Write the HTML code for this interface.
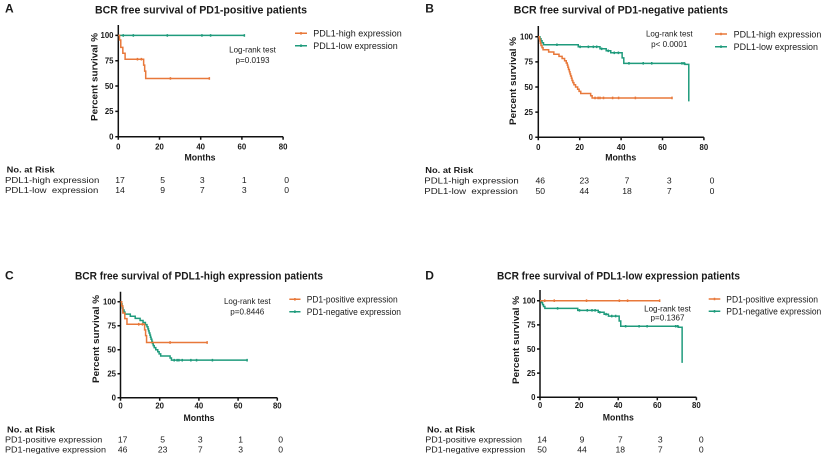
<!DOCTYPE html>
<html><head><meta charset="utf-8"><style>
html,body{margin:0;padding:0;background:#fff;}
svg{display:block;}
text{font-family:"Liberation Sans",Arial,sans-serif;fill:#1a1a1a;}
.b{font-weight:bold;}
.t{font-size:10.8px;font-weight:bold;}
.tk{font-size:7.8px;font-weight:bold;}
.ax{font-size:9.4px;font-weight:bold;}
.lg{font-size:8.8px;}
.lr{font-size:8.1px;}
.rk{font-size:8.6px;}
.ln{fill:none;stroke-width:1.5;vector-effect:non-scaling-stroke;}
.o{stroke:#E8783A;}
.g{stroke:#1F9B7C;}
.axis{stroke:#111;stroke-width:1.5;fill:none;}
</style></head><body>
<svg width="824" height="457" viewBox="0 0 824 457" xmlns="http://www.w3.org/2000/svg">
<rect width="824" height="457" fill="#fff"/>

<!-- ===== Panel A ===== -->
<text x="5" y="12.5" class="b" font-size="12">A</text>
<text x="95" y="13.5" class="t" textLength="212" lengthAdjust="spacingAndGlyphs">BCR free survival of PD1-positive patients</text>
<path class="axis" d="M118.3,25 V136.7 H283.1 M115.3,35.4 H118.3 M115.3,60.7 H118.3 M115.3,86.05 H118.3 M115.3,111.4 H118.3 M115.3,136.7 H118.3 M118.3,136.7 v3 M159.5,136.7 v3 M200.7,136.7 v3 M241.9,136.7 v3 M283.1,136.7 v3"/>
<g class="tk" text-anchor="end">
<text x="113.5" y="38.2">100</text><text x="113.5" y="63.5">75</text><text x="113.5" y="88.8">50</text><text x="113.5" y="114.2">25</text><text x="113.5" y="139.5">0</text>
</g>
<g class="tk" text-anchor="middle">
<text x="118.3" y="149.5">0</text><text x="159.5" y="149.5">20</text><text x="200.7" y="149.5">40</text><text x="241.9" y="149.5">60</text><text x="283.1" y="149.5">80</text>
</g>
<text x="200" y="160.5" class="ax" text-anchor="middle" textLength="31" lengthAdjust="spacingAndGlyphs">Months</text>
<text transform="translate(97.7,77) rotate(-90)" class="ax" text-anchor="middle" textLength="88" lengthAdjust="spacingAndGlyphs">Percent survival %</text>
<g transform="translate(118.3,136.7) scale(2.06,-1.013)">
<path class="ln g" d="M0,100 H61.2 M2.4,98.7 v2.6 M7.3,98.7 v2.6 M23.8,98.7 v2.6 M40.6,98.7 v2.6 M44.8,98.7 v2.6 M61.2,98.7 v2.6"/>
<path class="ln o" d="M0,100 H0.6 V95.5 H1.2 V88.2 H2.2 V82.4 H3.3 V76.5 H12.3 V70.6 H12.8 V64.7 H13.3 V57.5 H44.2 M9.3,75.2 v2.6 M11.2,75.2 v2.6 M25.3,56.2 v2.6 M44.2,56.2 v2.6"/>
</g>
<path class="ln o" d="M295,33.3 H307 M301,32 v2.6"/>
<path class="ln g" d="M295,45.7 H307 M301,44.4 v2.6"/>
<text x="313.3" y="36.5" class="lg" textLength="88.4" lengthAdjust="spacingAndGlyphs">PDL1-high expression</text>
<text x="313.3" y="49" class="lg" textLength="84.4" lengthAdjust="spacingAndGlyphs">PDL1-low expression</text>
<text x="252.5" y="52.5" class="lr" text-anchor="middle" textLength="46.7" lengthAdjust="spacingAndGlyphs">Log-rank test</text>
<text x="252.5" y="63" class="lr" text-anchor="middle">p=0.0193</text>
<text x="6.7" y="172.5" class="rk b" textLength="48" lengthAdjust="spacingAndGlyphs">No. at Risk</text>
<text x="5" y="183" class="rk" textLength="94.3" lengthAdjust="spacingAndGlyphs">PDL1-high expression</text>
<text x="5" y="193" class="rk" textLength="93.3" lengthAdjust="spacingAndGlyphs" xml:space="preserve">PDL1-low  expression</text>
<g class="rk" text-anchor="middle">
<text x="120" y="183">17</text><text x="162.7" y="183">5</text><text x="202.3" y="183">3</text><text x="244.3" y="183">1</text><text x="286.7" y="183">0</text>
<text x="120" y="193">14</text><text x="162.7" y="193">9</text><text x="202.3" y="193">7</text><text x="244.3" y="193">3</text><text x="286.7" y="193">0</text>
</g>

<!-- ===== Panel B ===== -->
<text x="425.3" y="12.5" class="b" font-size="12">B</text>
<text x="513.7" y="13.5" class="t" textLength="214.3" lengthAdjust="spacingAndGlyphs">BCR free survival of PD1-negative patients</text>
<path class="axis" d="M538.3,26 V137.3 H703.9 M535.3,36.7 H538.3 M535.3,61.85 H538.3 M535.3,87 H538.3 M535.3,112.15 H538.3 M535.3,137.3 H538.3 M538.3,137.3 v3 M579.7,137.3 v3 M621.1,137.3 v3 M662.5,137.3 v3 M703.9,137.3 v3"/>
<g class="tk" text-anchor="end">
<text x="533" y="39.5">100</text><text x="533" y="64.6">75</text><text x="533" y="89.8">50</text><text x="533" y="114.9">25</text><text x="533" y="140.1">0</text>
</g>
<g class="tk" text-anchor="middle">
<text x="538.3" y="150">0</text><text x="579.7" y="150">20</text><text x="621.1" y="150">40</text><text x="662.5" y="150">60</text><text x="703.9" y="150">80</text>
</g>
<text x="620.7" y="160.7" class="ax" text-anchor="middle" textLength="31" lengthAdjust="spacingAndGlyphs">Months</text>
<text transform="translate(516,81) rotate(-90)" class="ax" text-anchor="middle" textLength="88" lengthAdjust="spacingAndGlyphs">Percent survival %</text>
<g transform="translate(538.3,137.3) scale(2.07,-1.006)">
<path class="ln g" d="M0,100 H0.8 V98 H1.3 V96 H1.8 V94 H2.5 V92 H19.3 V90 H29.8 V88 H32.8 V86 H35 V84 H40.5 V79 H41.3 V73.5 H70.8 V72.5 H72.7 V37 M9,90.7 v2.6 M20.2,88.7 v2.6 M24.2,88.7 v2.6 M26.6,88.7 v2.6 M28.2,88.7 v2.6 M30.6,86.7 v2.6 M33.8,84.7 v2.6 M36.7,82.7 v2.6 M38.7,82.7 v2.6 M43.8,72.2 v2.6 M50.7,72.2 v2.6 M54.8,72.2 v2.6 M69.4,72.2 v2.6 M70.4,72.2 v2.6 M72.7,35.7 v2.6"/>
<path class="ln o" d="M0,100 H0.5 V97.8 H0.8 V95.7 H1 V93.5 H1.3 V91.3 H1.8 V89.1 H2.3 V87 H5 V84.8 H7.5 V82.6 H10 V80.4 H11.5 V78.3 H12.7 V76.1 H13.5 V73.9 H14 V71.7 H14.3 V69.6 H14.6 V67.4 H15 V65.2 H15.3 V63 H15.6 V60.9 H16 V58.7 H16.3 V56.5 H16.7 V54.3 H17.2 V52.2 H18 V50 H19 V47.8 H19.7 V45.7 H20.5 V43.5 H25.3 V41.3 H26 V39.1 H64.6 M27.4,37.8 v2.6 M28.9,37.8 v2.6 M29.8,37.8 v2.6 M31.5,37.8 v2.6 M35.9,37.8 v2.6 M38.8,37.8 v2.6 M46.9,37.8 v2.6 M64.6,37.8 v2.6"/>
</g>
<path class="ln o" d="M715,34 H727 M721,32.7 v2.6"/>
<path class="ln g" d="M715,46.7 H727 M721,45.4 v2.6"/>
<text x="733.7" y="37.3" class="lg" textLength="87.6" lengthAdjust="spacingAndGlyphs">PDL1-high expression</text>
<text x="733.7" y="50" class="lg" textLength="84.3" lengthAdjust="spacingAndGlyphs">PDL1-low expression</text>
<text x="669.3" y="36.5" class="lr" text-anchor="middle" textLength="46.7" lengthAdjust="spacingAndGlyphs">Log-rank test</text>
<text x="669.3" y="47" class="lr" text-anchor="middle">p&lt; 0.0001</text>
<text x="425.3" y="173" class="rk b" textLength="48" lengthAdjust="spacingAndGlyphs">No. at Risk</text>
<text x="424.3" y="183.3" class="rk" textLength="94.4" lengthAdjust="spacingAndGlyphs">PDL1-high expression</text>
<text x="424.3" y="194" class="rk" textLength="93.7" lengthAdjust="spacingAndGlyphs" xml:space="preserve">PDL1-low  expression</text>
<g class="rk" text-anchor="middle">
<text x="540.3" y="183.3">46</text><text x="584.3" y="183.3">23</text><text x="627" y="183.3">7</text><text x="669.3" y="183.3">3</text><text x="712" y="183.3">0</text>
<text x="540.3" y="194">50</text><text x="584.3" y="194">44</text><text x="627" y="194">18</text><text x="669.3" y="194">7</text><text x="712" y="194">0</text>
</g>

<!-- ===== Panel C ===== -->
<text x="5" y="279.5" class="b" font-size="12">C</text>
<text x="75" y="279.3" class="t" textLength="248" lengthAdjust="spacingAndGlyphs">BCR free survival of PDL1-high expression patients</text>
<path class="axis" d="M120.5,291.7 V397.7 H277.3 M117.5,301.7 H120.5 M117.5,325.7 H120.5 M117.5,349.7 H120.5 M117.5,373.7 H120.5 M117.5,397.7 H120.5 M120.5,397.7 v3 M159.7,397.7 v3 M198.9,397.7 v3 M238.1,397.7 v3 M277.3,397.7 v3"/>
<g class="tk" text-anchor="end">
<text x="116" y="304.5">100</text><text x="116" y="328.5">75</text><text x="116" y="352.5">50</text><text x="116" y="376.5">25</text><text x="116" y="400.5">0</text>
</g>
<g class="tk" text-anchor="middle">
<text x="120.5" y="408.5">0</text><text x="159.7" y="408.5">20</text><text x="198.9" y="408.5">40</text><text x="238.1" y="408.5">60</text><text x="277.3" y="408.5">80</text>
</g>
<text x="199" y="421" class="ax" text-anchor="middle" textLength="31" lengthAdjust="spacingAndGlyphs">Months</text>
<text transform="translate(99,339) rotate(-90)" class="ax" text-anchor="middle" textLength="88" lengthAdjust="spacingAndGlyphs">Percent survival %</text>
<g transform="translate(120.5,397.7) scale(1.96,-0.96)">
<path class="ln g" d="M0,100 H0.5 V97.8 H0.8 V95.7 H1 V93.5 H1.3 V91.3 H1.8 V89.1 H2.3 V87 H5 V84.8 H7.5 V82.6 H10 V80.4 H11.5 V78.3 H12.7 V76.1 H13.5 V73.9 H14 V71.7 H14.3 V69.6 H14.6 V67.4 H15 V65.2 H15.3 V63 H15.6 V60.9 H16 V58.7 H16.3 V56.5 H16.7 V54.3 H17.2 V52.2 H18 V50 H19 V47.8 H19.7 V45.7 H20.5 V43.5 H25.3 V41.3 H26 V39.1 H64.6 M27.4,37.7 v2.8 M28.9,37.7 v2.8 M29.8,37.7 v2.8 M31.5,37.7 v2.8 M35.9,37.7 v2.8 M38.8,37.7 v2.8 M46.9,37.7 v2.8 M64.6,37.7 v2.8"/>
<path class="ln o" d="M0,100 H0.6 V95.5 H1.2 V88.2 H2.2 V82.4 H3.3 V76.5 H12.3 V70.6 H12.8 V64.7 H13.3 V57.5 H44.2 M9.3,75.1 v2.8 M11.2,75.1 v2.8 M25.3,56.1 v2.8 M44.2,56.1 v2.8"/>
</g>
<path class="ln o" d="M289.3,299.3 H300.5 M294.9,298 v2.6"/>
<path class="ln g" d="M289.3,311.7 H300.5 M294.9,310.4 v2.6"/>
<text x="306.7" y="302.6" class="lg" textLength="91" lengthAdjust="spacingAndGlyphs">PD1-positive expression</text>
<text x="306.7" y="315" class="lg" textLength="94.3" lengthAdjust="spacingAndGlyphs">PD1-negative expression</text>
<text x="247.3" y="304" class="lr" text-anchor="middle" textLength="46.7" lengthAdjust="spacingAndGlyphs">Log-rank test</text>
<text x="247.3" y="314.3" class="lr" text-anchor="middle">p=0.8446</text>
<text x="7" y="432.7" class="rk b" textLength="48" lengthAdjust="spacingAndGlyphs">No. at Risk</text>
<text x="5" y="442.7" class="rk" textLength="97.3" lengthAdjust="spacingAndGlyphs">PD1-positive expression</text>
<text x="5" y="452.7" class="rk" textLength="101" lengthAdjust="spacingAndGlyphs">PD1-negative expression</text>
<g class="rk" text-anchor="middle">
<text x="122.7" y="442.7">17</text><text x="162.7" y="442.7">5</text><text x="200.3" y="442.7">3</text><text x="240.7" y="442.7">1</text><text x="280.7" y="442.7">0</text>
<text x="122.7" y="452.7">46</text><text x="162.7" y="452.7">23</text><text x="200.3" y="452.7">7</text><text x="240.7" y="452.7">3</text><text x="280.7" y="452.7">0</text>
</g>

<!-- ===== Panel D ===== -->
<text x="425.3" y="279.5" class="b" font-size="12">D</text>
<text x="497" y="279.3" class="t" textLength="243" lengthAdjust="spacingAndGlyphs">BCR free survival of PDL1-low expression patients</text>
<path class="axis" d="M540,290 V397.3 H696.4 M537,300.7 H540 M537,324.85 H540 M537,349 H540 M537,373.15 H540 M537,397.3 H540 M540,397.3 v3 M579.1,397.3 v3 M618.2,397.3 v3 M657.3,397.3 v3 M696.4,397.3 v3"/>
<g class="tk" text-anchor="end">
<text x="535.5" y="303.5">100</text><text x="535.5" y="327.6">75</text><text x="535.5" y="351.8">50</text><text x="535.5" y="375.9">25</text><text x="535.5" y="400.1">0</text>
</g>
<g class="tk" text-anchor="middle">
<text x="540" y="408">0</text><text x="579.1" y="408">20</text><text x="618.2" y="408">40</text><text x="657.3" y="408">60</text><text x="696.4" y="408">80</text>
</g>
<text x="618.3" y="420.3" class="ax" text-anchor="middle" textLength="31" lengthAdjust="spacingAndGlyphs">Months</text>
<text transform="translate(519,340) rotate(-90)" class="ax" text-anchor="middle" textLength="88" lengthAdjust="spacingAndGlyphs">Percent survival %</text>
<g transform="translate(540,397.3) scale(1.955,-0.966)">
<path class="ln g" d="M0,100 H0.8 V98 H1.3 V96 H1.8 V94 H2.5 V92 H19.3 V90 H29.8 V88 H32.8 V86 H35 V84 H40.5 V79 H41.3 V73.5 H70.8 V72.5 H72.7 V37 M9,90.7 v2.7 M20.2,88.7 v2.7 M24.2,88.7 v2.7 M26.6,88.7 v2.7 M28.2,88.7 v2.7 M30.6,86.7 v2.7 M33.8,84.7 v2.7 M36.7,82.7 v2.7 M38.7,82.7 v2.7 M43.8,72.2 v2.7 M50.7,72.2 v2.7 M54.8,72.2 v2.7 M69.4,72.2 v2.7 M70.4,72.2 v2.7 M72.7,35.7 v2.7"/>
<path class="ln o" d="M0,100 H61.2 M2.4,98.7 v2.7 M7.3,98.7 v2.7 M23.8,98.7 v2.7 M40.6,98.7 v2.7 M44.8,98.7 v2.7 M61.2,98.7 v2.7"/>
</g>
<path class="ln o" d="M708.7,299 H720.3 M714.5,297.7 v2.6"/>
<path class="ln g" d="M708.7,311.3 H720.3 M714.5,310 v2.6"/>
<text x="726.3" y="302.5" class="lg" textLength="91.7" lengthAdjust="spacingAndGlyphs">PD1-positive expression</text>
<text x="726.3" y="314.7" class="lg" textLength="95" lengthAdjust="spacingAndGlyphs">PD1-negative expression</text>
<text x="667.5" y="311.5" class="lr" text-anchor="middle" textLength="46.7" lengthAdjust="spacingAndGlyphs">Log-rank test</text>
<text x="667.5" y="320.5" class="lr" text-anchor="middle">p=0.1367</text>
<text x="427" y="432.7" class="rk b" textLength="48" lengthAdjust="spacingAndGlyphs">No. at Risk</text>
<text x="425.3" y="442.7" class="rk" textLength="96.7" lengthAdjust="spacingAndGlyphs">PD1-positive expression</text>
<text x="425.3" y="452.7" class="rk" textLength="100" lengthAdjust="spacingAndGlyphs">PD1-negative expression</text>
<g class="rk" text-anchor="middle">
<text x="542" y="442.7">14</text><text x="582" y="442.7">9</text><text x="620.3" y="442.7">7</text><text x="660.3" y="442.7">3</text><text x="701.3" y="442.7">0</text>
<text x="542" y="452.7">50</text><text x="582" y="452.7">44</text><text x="620.3" y="452.7">18</text><text x="660.3" y="452.7">7</text><text x="701.3" y="452.7">0</text>
</g>
</svg>
</body></html>
